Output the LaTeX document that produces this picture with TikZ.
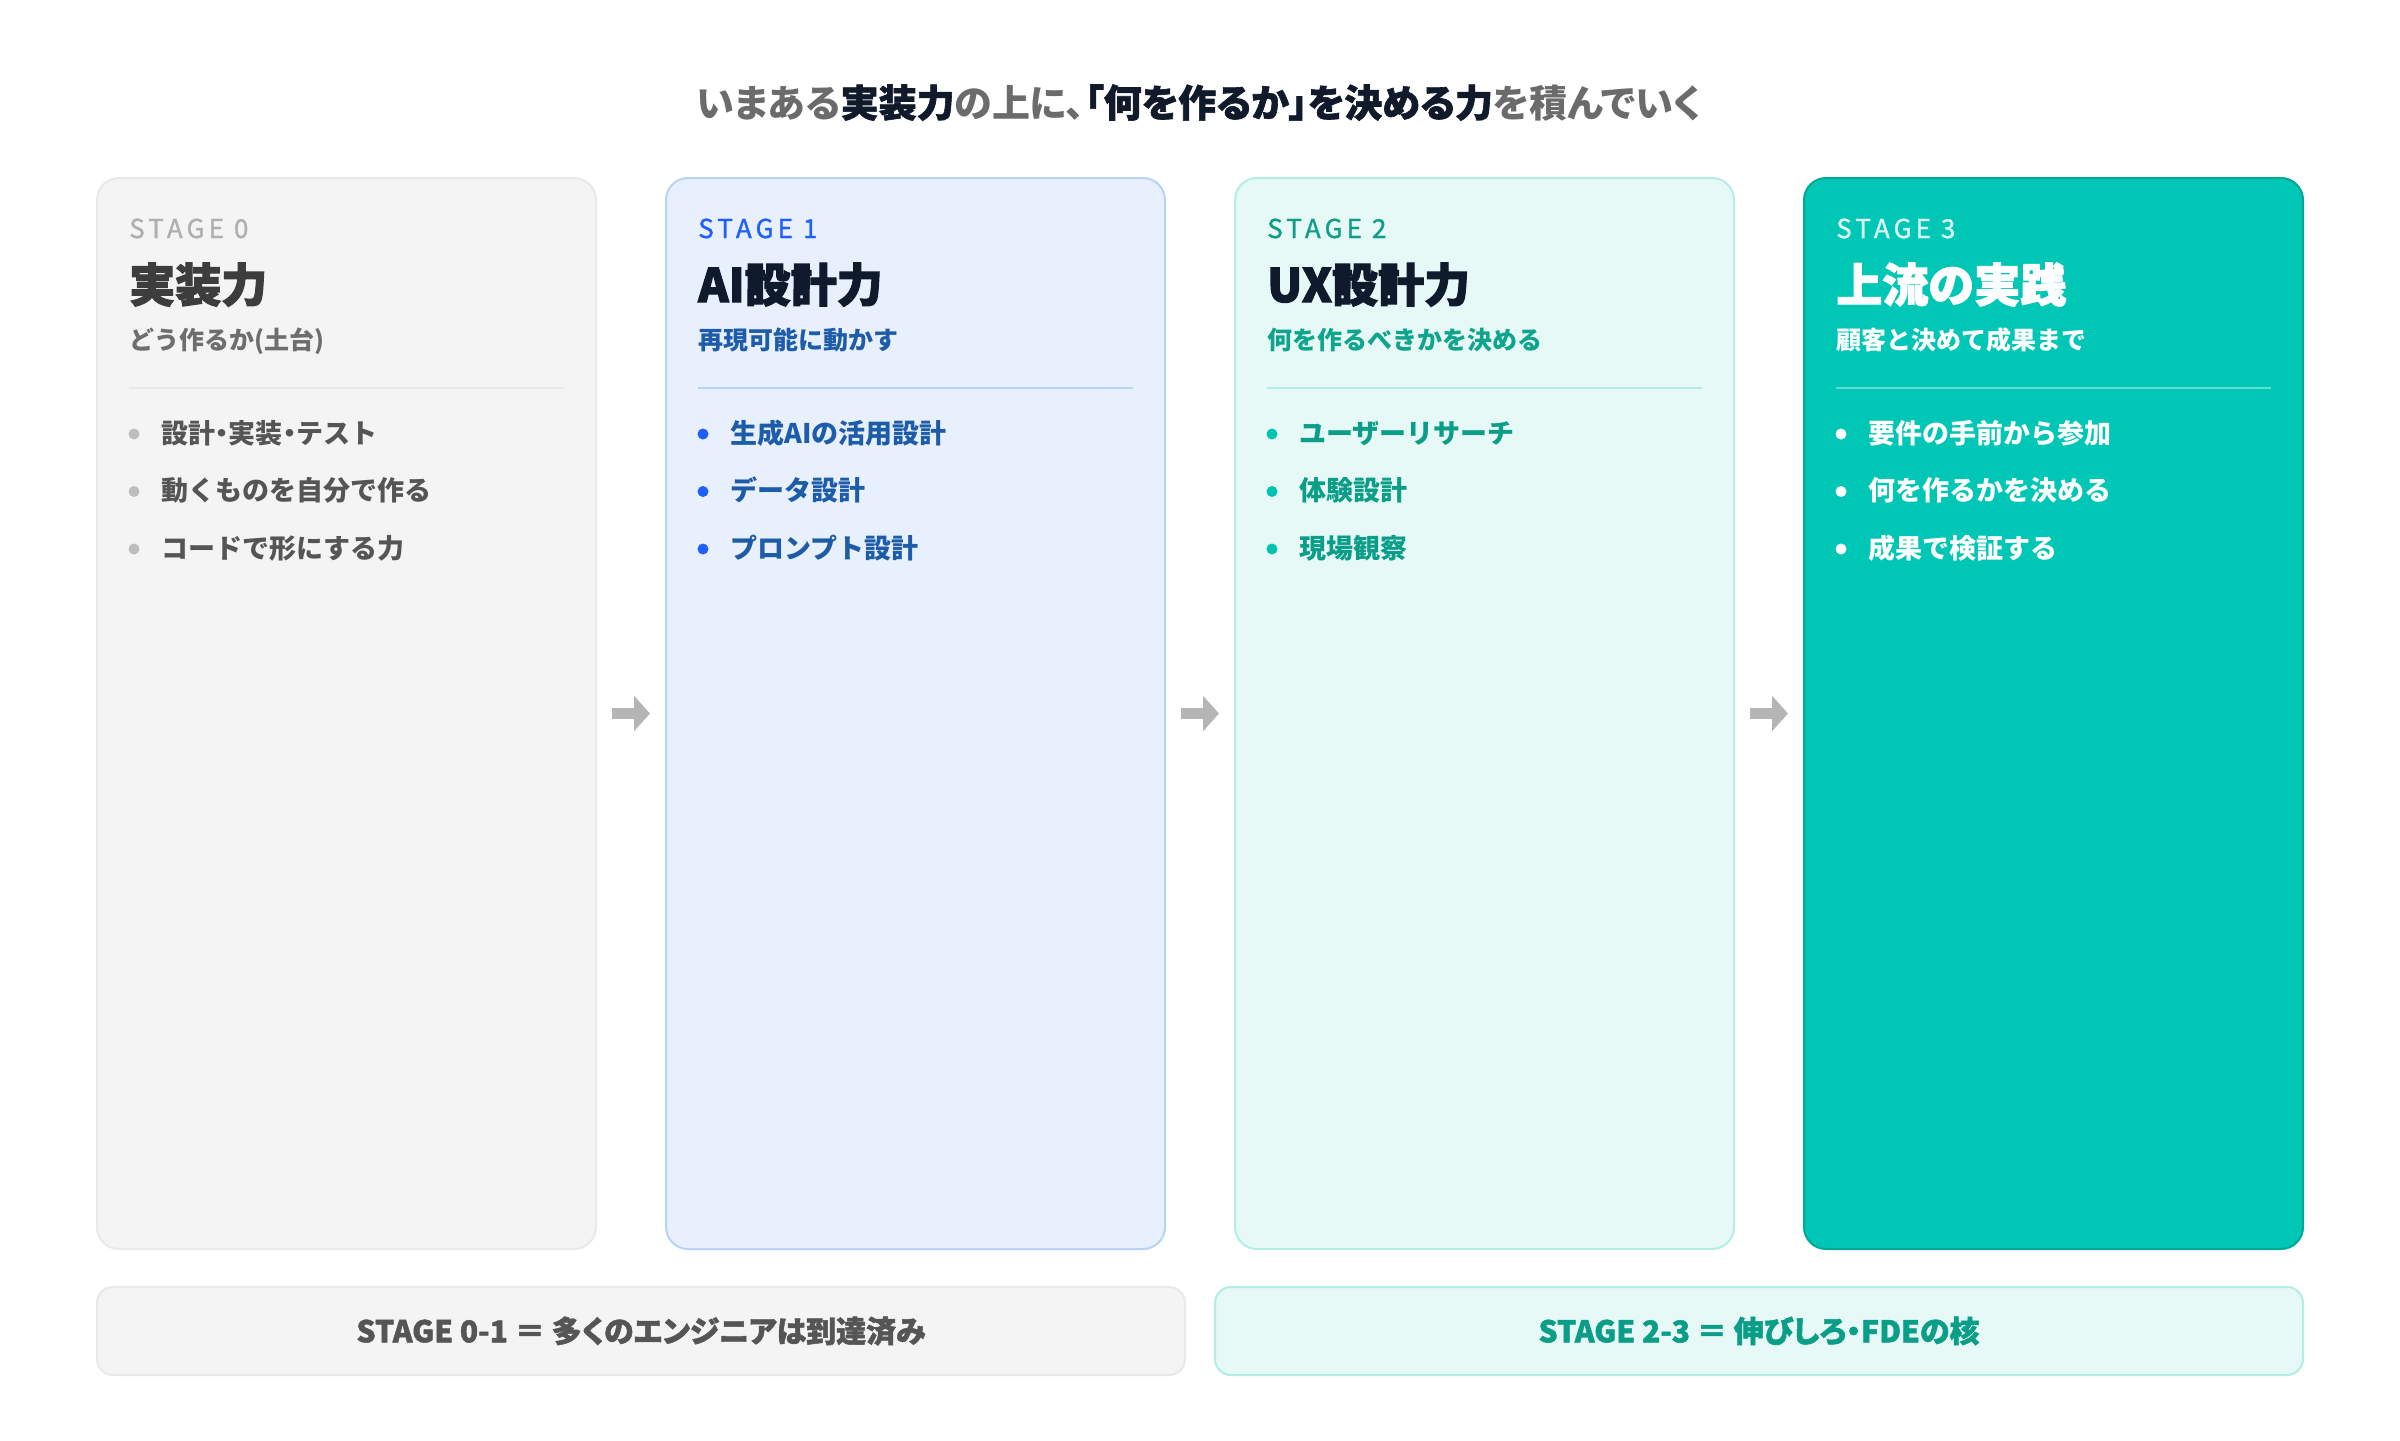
\documentclass[tikz,border=0pt]{standalone}
\usepackage{fontspec}
\usetikzlibrary{arrows.meta}

\setmainfont{Noto Sans CJK JP}
\newfontfamily\heavyfont{Noto Sans CJK JP}[FakeBold=2.4]
\newfontfamily\paltfont{Noto Sans CJK JP}[RawFeature=+palt]
\newfontfamily\heavypalt{Noto Sans CJK JP}[RawFeature=+palt,FakeBold=1.6]
\newfontfamily\stagefont{Noto Sans CJK JP}[LetterSpace=16,FakeBold=1.2]

\newlength\pxl
\setlength\pxl{0.75pt}

\definecolor{titlegrey}{HTML}{6B6B6B}
\definecolor{titleink}{HTML}{111A2B}
\definecolor{arrowgrey}{HTML}{B5B5B5}
% stage 0
\definecolor{czfill}{HTML}{F4F4F4}
\definecolor{czline}{HTML}{E9E9E9}
\definecolor{czstage}{HTML}{AFAFAF}
\definecolor{czhead}{HTML}{3D3D3D}
\definecolor{czsub}{HTML}{6E6E6E}
\definecolor{czdot}{HTML}{BDBDBD}
\definecolor{czitem}{HTML}{555555}
% stage 1
\definecolor{cafill}{HTML}{E8F0FE}
\definecolor{caline}{HTML}{B7D3F5}
\definecolor{castage}{HTML}{1F5EFF}
\definecolor{cahead}{HTML}{0F1B2D}
\definecolor{casub}{HTML}{1D5CA8}
\definecolor{cadot}{HTML}{1F5EFF}
% stage 2
\definecolor{cbfill}{HTML}{E6F9F6}
\definecolor{cbline}{HTML}{B3EEE6}
\definecolor{cbstage}{HTML}{0E9E87}
\definecolor{cbsub}{HTML}{0EA58C}
\definecolor{cbdot}{HTML}{00C4B0}
\definecolor{cbitem}{HTML}{0A9E88}
% stage 3
\definecolor{ccfill}{HTML}{00C6B6}
\definecolor{ccline}{HTML}{00A897}
\definecolor{ccstage}{HTML}{DDFBF6}
\definecolor{ccrule}{HTML}{5EDCD1}

\tikzset{
  card/.style={rectangle, rounded corners=16.5pt, line width=1.5pt, inner sep=0pt,
    minimum width=499\pxl, minimum height=1071\pxl},
  sumbox/.style={rectangle, rounded corners=12pt, line width=1.5pt, inner sep=0pt,
    minimum width=1088\pxl, minimum height=88\pxl,
    font=\heavypalt\bfseries\fontsize{22.5}{26}\selectfont},
  stagelbl/.style={anchor=base west, inner sep=0pt,
    font=\stagefont\fontsize{19.5}{23}\selectfont},
  headlbl/.style={anchor=base west, inner sep=0pt,
    font=\heavyfont\bfseries\fontsize{34.5}{40}\selectfont},
  sublbl/.style={anchor=base west, inner sep=0pt, font=\bfseries\fontsize{18.75}{22}\selectfont},
  itemlbl/.style={anchor=base west, inner sep=0pt, font=\bfseries\fontsize{20.25}{24}\selectfont},
  itemdot/.style={circle, inner sep=0pt, minimum size=11\pxl},
  rule/.style={line width=1.5pt},
  flow/.style={-{Triangle[length=12pt,width=26pt]}, line width=8.25pt, draw=arrowgrey}
}

\begin{document}
\begin{tikzpicture}[x=0.75pt,y=0.75pt,yscale=-1,xscale=1]
%set diagram size 2400 x 1440
\useasboundingbox[fill=white] (0,0) rectangle (2400,1440);

% Text Node
\node [anchor=base, inner sep=0pt, font=\paltfont\bfseries\fontsize{28.5}{34}\selectfont, text=titlegrey] (ttl) at (1199,117)
  {いまある{\heavypalt\color{titleink}実装力}の上に、{\heavypalt\color{titleink}「何を作るか」を決める力}を積んでいく};

%Rounded Rect
\node [card, fill=czfill, draw=czline] (c0) at (346.5,713.5) {};
%Rounded Rect
\node [card, fill=cafill, draw=caline] (c1) at (915.5,713.5) {};
%Rounded Rect
\node [card, fill=cbfill, draw=cbline] (c2) at (1484.5,713.5) {};
%Rounded Rect
\node [card, fill=ccfill, draw=ccline] (c3) at (2053.5,713.5) {};

%Arrows
\draw [flow] ([xshift=15\pxl]c0.east) -- ([xshift=-15\pxl]c1.west);
\draw [flow] ([xshift=15\pxl]c1.east) -- ([xshift=-15\pxl]c2.west);
\draw [flow] ([xshift=15\pxl]c2.east) -- ([xshift=-15\pxl]c3.west);

% ---- stage 0
% Text Node
\node [stagelbl, text=czstage] (s0) at (129,238) {STAGE 0};
% Text Node
\node [headlbl, text=czhead] (h0) at (129,302) {実装力};
% Text Node
\node [sublbl, text=czsub] (t0) at (129,349) {どう作るか(土台)};
%Straight Lines
\draw [rule, draw=czline] (129,388) -- (564,388);
% Bullets
\node [itemdot, fill=czdot] (d01) at (134,434) {};
\node [itemlbl, text=czitem] (i01) at (161,443) {設計{\paltfont ・}実装{\paltfont ・}テスト};
\node [itemdot, fill=czdot] (d02) at (134,491.5) {};
\node [itemlbl, text=czitem] (i02) at (161,500.5) {動くものを自分で作る};
\node [itemdot, fill=czdot] (d03) at (134,549) {};
\node [itemlbl, text=czitem] (i03) at (161,558) {コードで形にする力};

% ---- stage 1
% Text Node
\node [stagelbl, text=castage] (s1) at (698,238) {STAGE 1};
% Text Node
\node [headlbl, text=cahead] (h1) at (698,302) {AI設計力};
% Text Node
\node [sublbl, text=casub] (t1) at (698,349) {再現可能に動かす};
%Straight Lines
\draw [rule, draw=caline] (698,388) -- (1133,388);
% Bullets
\node [itemdot, fill=cadot] (d11) at (703,434) {};
\node [itemlbl, text=casub] (i11) at (730,443) {生成AIの活用設計};
\node [itemdot, fill=cadot] (d12) at (703,491.5) {};
\node [itemlbl, text=casub] (i12) at (730,500.5) {データ設計};
\node [itemdot, fill=cadot] (d13) at (703,549) {};
\node [itemlbl, text=casub] (i13) at (730,558) {プロンプト設計};

% ---- stage 2
% Text Node
\node [stagelbl, text=cbstage] (s2) at (1267,238) {STAGE 2};
% Text Node
\node [headlbl, text=cahead] (h2) at (1267,302) {UX設計力};
% Text Node
\node [sublbl, text=cbsub] (t2) at (1267,349) {何を作るべきかを決める};
%Straight Lines
\draw [rule, draw=cbline] (1267,388) -- (1702,388);
% Bullets
\node [itemdot, fill=cbdot] (d21) at (1272,434) {};
\node [itemlbl, text=cbitem] (i21) at (1299,443) {ユーザーリサーチ};
\node [itemdot, fill=cbdot] (d22) at (1272,491.5) {};
\node [itemlbl, text=cbitem] (i22) at (1299,500.5) {体験設計};
\node [itemdot, fill=cbdot] (d23) at (1272,549) {};
\node [itemlbl, text=cbitem] (i23) at (1299,558) {現場観察};

% ---- stage 3
% Text Node
\node [stagelbl, text=ccstage] (s3) at (1836,238) {STAGE 3};
% Text Node
\node [headlbl, text=white] (h3) at (1836,302) {上流の実践};
% Text Node
\node [sublbl, text=white] (t3) at (1836,349) {顧客と決めて成果まで};
%Straight Lines
\draw [rule, draw=ccrule] (1836,388) -- (2271,388);
% Bullets
\node [itemdot, fill=white] (d31) at (1841,434) {};
\node [itemlbl, text=white] (i31) at (1868,443) {要件の手前から参加};
\node [itemdot, fill=white] (d32) at (1841,491.5) {};
\node [itemlbl, text=white] (i32) at (1868,500.5) {何を作るかを決める};
\node [itemdot, fill=white] (d33) at (1841,549) {};
\node [itemlbl, text=white] (i33) at (1868,558) {成果で検証する};

% ---- summary boxes
\node [sumbox, fill=czfill, draw=czline, text=czitem] (sum01) at (641,1331) {STAGE 0-1 ＝ 多くのエンジニアは到達済み};
\node [sumbox, fill=cbfill, draw=cbline, text=cbitem] (sum23) at (1759,1331) {STAGE 2-3 ＝ 伸びしろ・FDEの核};

\end{tikzpicture}
\end{document}
